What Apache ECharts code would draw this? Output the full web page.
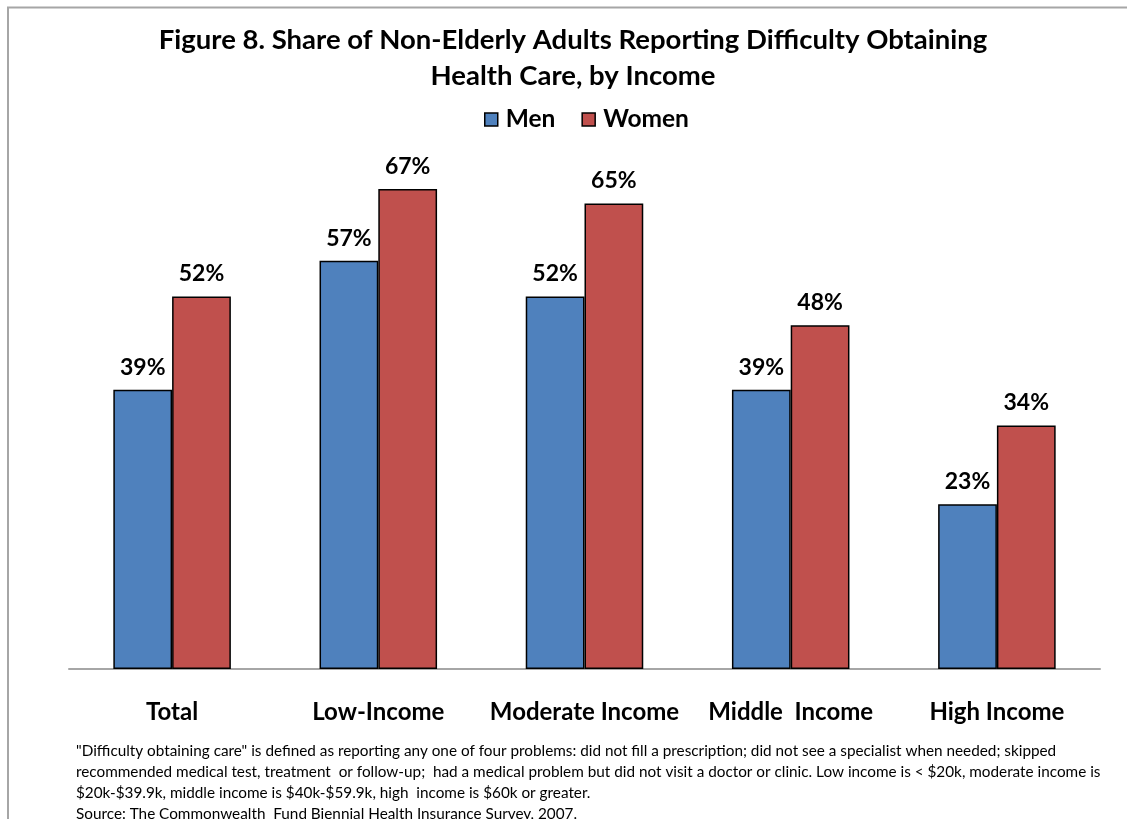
<!DOCTYPE html>
<html>
<head>
<meta charset="utf-8">
<script src="https://cdn.jsdelivr.net/npm/echarts@6/dist/echarts.min.js"></script>
<style>
html,body{margin:0;padding:0;background:#fff;}
#chart{width:1127px;height:819px;}
</style>
</head>
<body>
<div id="chart"></div>
<script>
const categories = ['Total', 'Low-Income', 'Moderate Income', 'Middle  Income', 'High Income'];
const menValues = [39, 57, 52, 39, 23];
const womenValues = [52, 67, 65, 48, 34];
const seriesNames = ['Men', 'Women'];
const footnoteLines = [
  '"Difficulty obtaining care" is defined as reporting any one of four problems: did not fill a prescription; did not see a specialist when needed; skipped',
  'recommended medical test, treatment  or follow-up;  had a medical problem but did not visit a doctor or clinic. Low income is < $20k, moderate income is',
  '$20k-$39.9k, middle income is $40k-$59.9k, high  income is $60k or greater.',
  'Source: The Commonwealth  Fund Biennial Health Insurance Survey, 2007.'
];

const FONT = 'Lato, "Open Sans", sans-serif';
const chart = echarts.init(document.getElementById('chart'), null, {renderer: 'canvas'});

const labelOpt = {
  show: true, position: 'top', distance: 11,
  formatter: p => p.value + '%',
  fontFamily: FONT, fontWeight: 'bold', fontSize: 23, color: '#000'
};

chart.setOption({
  animation: false,
  backgroundColor: '#fff',
  title: {
    text: 'Figure 8. Share of Non-Elderly Adults Reporting Difficulty Obtaining\nHealth Care, by Income',
    left: 568, top: 17, textAlign: 'center',
    textStyle: {fontFamily: FONT, fontWeight: 'bold', fontSize: 27.5, lineHeight: 36, color: '#000'}
  },
  legend: {
    data: seriesNames,
    left: 479, top: 102,
    itemWidth: 13, itemHeight: 13, itemGap: 26,
    icon: 'rect',
    textStyle: {fontFamily: FONT, fontWeight: 'bold', fontSize: 24.5, color: '#000', padding: [0, 0, 0, 3]},
    itemStyle: {borderColor: '#000', borderWidth: 1.5}
  },
  grid: {left: 69, right: 27, top: 96, bottom: 150, containLabel: false},
  xAxis: {
    type: 'category', data: categories,
    axisLine: {lineStyle: {color: '#A6A6A6', width: 2}},
    axisTick: {show: false},
    axisLabel: {interval: 0, margin: 31, fontFamily: FONT, fontWeight: 'bold', fontSize: 24, color: '#000'}
  },
  yAxis: {
    type: 'value', min: 0, max: 80, interval: 10,
    show: false
  },
  series: [
    {
      name: seriesNames[0], type: 'bar', data: menValues,
      barGap: '0%', barCategoryGap: '43%',
      itemStyle: {color: '#4F81BD', borderColor: '#000', borderWidth: 1.5},
      label: labelOpt
    },
    {
      name: seriesNames[1], type: 'bar', data: womenValues,
      itemStyle: {color: '#C0504D', borderColor: '#000', borderWidth: 1.5},
      label: labelOpt
    }
  ],
  graphic: [
    {
      type: 'polyline',
      shape: {points: [[8, 830], [8, 7.5], [1140, 7.5]]},
      style: {stroke: '#A6A6A6', lineWidth: 2, fill: null}
    },
    {
      type: 'text', left: 76, top: 741,
      style: {
        text: footnoteLines.join('\n'),
        fontFamily: FONT, fontSize: 15.3, lineHeight: 21, fill: '#000'
      }
    }
  ]
});
</script>
</body>
</html>
